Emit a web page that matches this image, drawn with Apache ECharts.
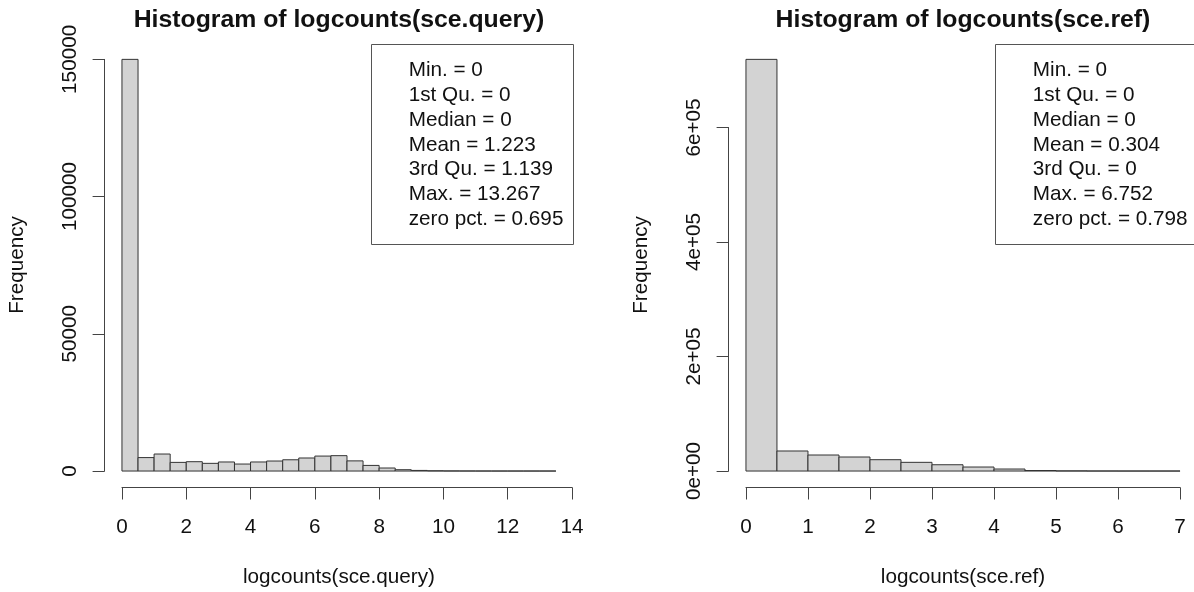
<!DOCTYPE html>
<html>
<head>
<meta charset="utf-8">
<script src="https://cdn.jsdelivr.net/npm/echarts@6/dist/echarts.min.js"></script>
<style>
html,body{margin:0;padding:0;background:#fff;}
#chart{width:1194px;height:592px;}
</style>
</head>
<body>
<div id="chart"></div>
<script>
// ---------------- data ----------------
const binWidth = 0.5;
const queryCounts = [150000, 4900, 6200, 3150, 3400, 2800, 3300, 2550, 3300, 3650, 4100, 4750, 5450, 5600, 3700, 2050, 1100, 480, 220, 90, 40, 20, 10, 6, 4, 2, 1];
const refCounts = [719000, 35000, 28000, 24500, 19800, 15200, 11000, 7000, 3500, 900, 250, 60, 20, 5];

const queryXTicks = [0, 2, 4, 6, 8, 10, 12, 14];
const refXTicks = [0, 1, 2, 3, 4, 5, 6, 7];
const queryYTicks = [0, 50000, 100000, 150000];
const queryYLabels = ['0', '50000', '100000', '150000'];
const refYTicks = [0, 200000, 400000, 600000];
const refYLabels = ['0e+00', '2e+05', '4e+05', '6e+05'];

const queryTitle = 'Histogram of logcounts(sce.query)';
const refTitle = 'Histogram of logcounts(sce.ref)';
const queryXName = 'logcounts(sce.query)';
const refXName = 'logcounts(sce.ref)';
const yName = 'Frequency';

const querySummary = ['Min. = 0', '1st Qu. = 0', 'Median = 0', 'Mean = 1.223', '3rd Qu. = 1.139', 'Max. = 13.267', 'zero pct. = 0.695'];
const refSummary = ['Min. = 0', '1st Qu. = 0', 'Median = 0', 'Mean = 0.304', '3rd Qu. = 0', 'Max. = 6.752', 'zero pct. = 0.798'];

// ---------------- layout ----------------
const FONT = '"Liberation Sans", Arial, Helvetica, sans-serif';
const FS = 20.7;          // base text size
const FS_MAIN = 24.8;     // title size
const TXT = '#111';
const AX = '#444';

const panels = [
  { counts: queryCounts, xTicks: queryXTicks, yTicks: queryYTicks, yLabels: queryYLabels,
    title: queryTitle, xName: queryXName, summary: querySummary,
    region: { l: 104.6, t: 42.9, r: 573.3, b: 487.5 } },
  { counts: refCounts, xTicks: refXTicks, yTicks: refYTicks, yLabels: refYLabels,
    title: refTitle, xName: refXName, summary: refSummary,
    region: { l: 728.6, t: 42.9, r: 1197.4, b: 487.5 } }
];

const grid = [], xAxis = [], yAxis = [], series = [], graphic = [];

panels.forEach((p, k) => {
  const R = p.region;
  const xmax = p.counts.length * binWidth;
  const ymax = Math.max.apply(null, p.counts);
  const xlo = -0.04 * xmax, xhi = xmax * 1.04;
  const ylo = -0.04 * ymax, yhi = ymax * 1.04;
  const xpx = v => R.l + (v - xlo) / (xhi - xlo) * (R.r - R.l);
  const ypx = v => R.b - (v - ylo) / (yhi - ylo) * (R.b - R.t);

  const base = grid.length;
  // bars grid (full plot region)
  grid.push({ left: R.l, top: R.t, width: R.r - R.l, height: R.b - R.t, containLabel: false, outerBoundsMode: 'none' });
  xAxis.push({ gridIndex: base, type: 'value', min: xlo, max: xhi, show: false });
  yAxis.push({ gridIndex: base, type: 'value', min: ylo, max: yhi, show: false, splitLine: { show: false } });

  // y axis grid (spans tick range)
  const yt0 = p.yTicks[0], yt1 = p.yTicks[p.yTicks.length - 1];
  grid.push({ left: R.l, top: ypx(yt1), width: 10, height: ypx(yt0) - ypx(yt1), containLabel: false, outerBoundsMode: 'none' });
  xAxis.push({ gridIndex: base + 1, type: 'value', show: false });
  yAxis.push({
    gridIndex: base + 1, type: 'value', position: 'left', min: yt0, max: yt1,
    interval: p.yTicks[1] - p.yTicks[0],
    axisLine: { show: true, lineStyle: { color: AX, width: 1 } },
    axisTick: { show: true, inside: false, length: 12, lineStyle: { color: AX, width: 1 } },
    splitLine: { show: false },
    axisLabel: {
      show: true, rotate: 90, margin: 24, color: TXT, fontSize: FS, fontFamily: FONT,
      showMinLabel: true, showMaxLabel: true,
      formatter: v => { const i = p.yTicks.indexOf(v); return i >= 0 ? p.yLabels[i] : ''; }
    }
  });

  // x axis grid (spans tick range)
  const xt0 = p.xTicks[0], xt1 = p.xTicks[p.xTicks.length - 1];
  grid.push({ left: xpx(xt0), top: R.b - 50, width: xpx(xt1) - xpx(xt0), height: 50, containLabel: false, outerBoundsMode: 'none' });
  xAxis.push({
    gridIndex: base + 2, type: 'value', position: 'bottom', min: xt0, max: xt1,
    interval: p.xTicks[1] - p.xTicks[0],
    axisLine: { show: true, onZero: false, lineStyle: { color: AX, width: 1 } },
    axisTick: { show: true, inside: false, length: 12, lineStyle: { color: AX, width: 1 } },
    splitLine: { show: false },
    axisLabel: { show: true, margin: 29, color: TXT, fontSize: FS, fontFamily: FONT, showMinLabel: true, showMaxLabel: true,
      formatter: v => String(v) }
  });
  yAxis.push({ gridIndex: base + 2, type: 'value', show: false });

  // histogram bars
  const data = p.counts.map((c, i) => [i * binWidth, (i + 1) * binWidth, c]);
  series.push({
    type: 'custom', xAxisIndex: base, yAxisIndex: base, data: data,
    encode: { x: [0, 1], y: 2 }, clip: false, animation: false,
    renderItem: (params, api) => {
      const a = api.coord([api.value(0), api.value(2)]);
      const b = api.coord([api.value(1), 0]);
      return { type: 'rect', shape: { x: a[0], y: a[1], width: b[0] - a[0], height: b[1] - a[1] },
        style: { fill: '#d3d3d3', stroke: '#333', lineWidth: 1 } };
    }
  });

  // title
  const cx = (R.l + R.r) / 2;
  graphic.push({ type: 'text', x: cx, y: 20, silent: true,
    style: { text: p.title, font: 'bold ' + FS_MAIN + 'px ' + FONT, fill: TXT, textAlign: 'center', textVerticalAlign: 'middle' } });
  // x name
  graphic.push({ type: 'text', x: cx, y: 577, silent: true,
    style: { text: p.xName, font: FS + 'px ' + FONT, fill: TXT, textAlign: 'center', textVerticalAlign: 'middle' } });
  // y name
  graphic.push({ type: 'text', x: R.l - 87, y: 265, rotation: Math.PI / 2, silent: true,
    style: { text: yName, font: FS + 'px ' + FONT, fill: TXT, textAlign: 'center', textVerticalAlign: 'middle' } });

  // summary box (top right)
  const bw = 202.3, bh = 199.5, bx = R.r - bw, by = R.t + 1;
  graphic.push({ type: 'rect', silent: true, shape: { x: Math.round(bx) + 0.5, y: Math.round(by) + 0.5, width: Math.round(bw), height: Math.round(bh) },
    style: { fill: '#fff', stroke: '#555', lineWidth: 1 } });
  p.summary.forEach((s, i) => {
    graphic.push({ type: 'text', x: bx + 37.7, y: by + 26.5 + i * 24.8, silent: true,
      style: { text: s, font: FS + 'px ' + FONT, fill: TXT, textAlign: 'left', textVerticalAlign: 'middle' } });
  });
});

const chart = echarts.init(document.getElementById('chart'), null, { renderer: 'canvas' });
chart.setOption({
  animation: false,
  backgroundColor: '#fff',
  grid: grid, xAxis: xAxis, yAxis: yAxis, series: series, graphic: graphic
});
</script>
</body>
</html>
